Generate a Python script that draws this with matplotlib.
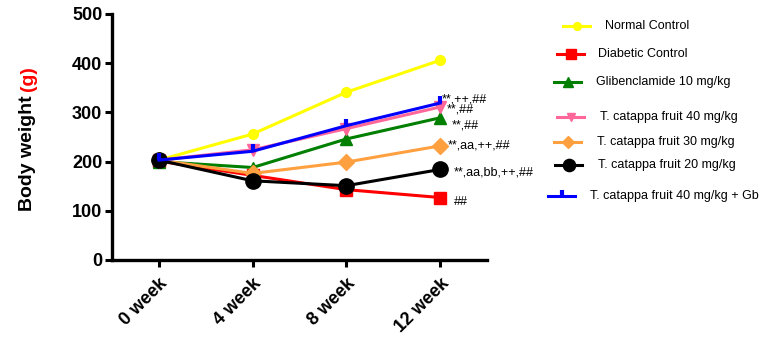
import matplotlib
matplotlib.use("Agg")
import matplotlib.pyplot as plt
from matplotlib.lines import Line2D

plt.rcParams['font.family'] = ['Liberation Sans', 'DejaVu Sans']

weeks = ["0 week", "4 week", "8 week", "12 week"]

normal_control = [203, 256, 341, 406]
diabetic_control = [201, 172, 143, 127]
glibenclamide = [200, 188, 246, 289]
tc_fruit_40 = [203, 224, 267, 311]
tc_fruit_30 = [203, 176, 199, 232]
tc_fruit_20 = [203, 161, 151, 184]
tc_fruit_40_gb = [203, 221, 273, 319]

series_labels = [
    "Normal Control",
    "Diabetic Control",
    "Glibenclamide 10 mg/kg",
    "T. catappa fruit 40 mg/kg",
    "T. catappa fruit 30 mg/kg",
    "T. catappa fruit 20 mg/kg",
    "T. catappa fruit 40 mg/kg + Gb",
]
significance = ["", "##", "**,##", "**,##", "**,aa,++,##", "**,aa,bb,++,##", "**,++,##"]

values = [normal_control, diabetic_control, glibenclamide, tc_fruit_40,
          tc_fruit_30, tc_fruit_20, tc_fruit_40_gb]

styles = [
    dict(color="#ffff00", marker="o", ms=7),
    dict(color="#ff0000", marker="s", ms=9),
    dict(color="#007f00", marker="^", ms=9),
    dict(color="#ff6699", marker="v", ms=8),
    dict(color="#ffa040", marker="D", ms=8),
    dict(color="#000000", marker="o", ms=11),
    dict(color="#0000ff", marker=2, ms=5),
]
# offsets (pixels) of the significance labels from the 12-week point
label_offsets = [None, (14, -4), (12, -8), (7, -3), (8, 0), (14, -3), (2, 4)]

fig = plt.figure(figsize=(7.78, 3.45), dpi=100)
W, H = 778, 345
ax = fig.add_axes([112 / W, 1 - 260 / H, (487 - 112) / W, (260 - 14) / H])

x = list(range(len(weeks)))
for vals, st in zip(values, styles):
    mew = 3 if st["marker"] == 2 else 1
    ax.plot(x, vals, color=st["color"], lw=2.2, marker=st["marker"],
            ms=st["ms"], mec=st["color"], mfc=st["color"], mew=mew,
            clip_on=False)

for vals, txt, off in zip(values, significance, label_offsets):
    if txt:
        ax.annotate(txt, xy=(x[-1], vals[-1]), xytext=off,
                    textcoords="offset pixels", ha="left", va="center",
                    fontsize=9)

ax.set_xlim(-0.5, 3.5)
ax.set_ylim(0, 500)
ax.set_yticks([0, 100, 200, 300, 400, 500])
ax.set_xticks(x)
ax.set_xticklabels(weeks, rotation=45, ha="right", rotation_mode="anchor",
                   fontsize=13, fontweight="bold")
for lab in ax.get_yticklabels():
    lab.set_fontsize(13)
    lab.set_fontweight("bold")
for s in ("top", "right"):
    ax.spines[s].set_visible(False)
for s in ("left", "bottom"):
    ax.spines[s].set_linewidth(2.4)
ax.tick_params(axis="both", direction="out", length=5, width=2.2, pad=2)
ax.tick_params(axis="x", pad=6)

# two-colour y-axis label
t1 = fig.text(28 / W, 1 - 153 / H, "Body weight", rotation=90, ha="center",
              va="center", fontsize=14, fontweight="bold", color="black")
ax.annotate("(g)", xy=(0.5, 1.0), xycoords=t1, xytext=(0, 4),
            textcoords="offset pixels", rotation=90, ha="center", va="bottom",
            fontsize=14, fontweight="bold", color="#ff0000")

# legend drawn entry by entry
legend_rows = [
    (563, 26, 605),
    (557, 54, 598),
    (554, 82, 596),
    (557, 117, 600),
    (554, 142, 597),
    (555, 165, 598),
    (548, 196, 590),
]
for (x0, yy, tx), st, lab in zip(legend_rows, styles, series_labels):
    yf = 1 - yy / H
    fig.add_artist(Line2D([x0 / W, (x0 + 27) / W], [yf, yf],
                          transform=fig.transFigure, color=st["color"], lw=2.2))
    mew = 3 if st["marker"] == 2 else 1
    fig.add_artist(Line2D([(x0 + 13.5) / W], [yf], transform=fig.transFigure,
                          color=st["color"], marker=st["marker"],
                          ms=st["ms"] * 0.8, mec=st["color"], mfc=st["color"],
                          mew=mew, lw=0))
    fig.text(tx / W, yf, lab, ha="left", va="center", fontsize=9)

fig.savefig("out.png", dpi=100)
